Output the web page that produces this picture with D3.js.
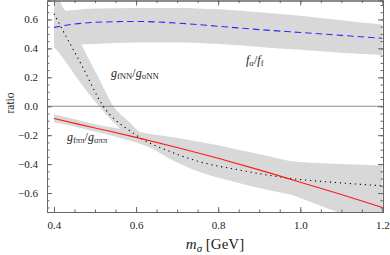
<!DOCTYPE html>
<html><head><meta charset="utf-8">
<script src="https://cdn.jsdelivr.net/npm/d3@7"></script>
<style>body{margin:0;background:#fff}svg{display:block}text{font-family:"Liberation Serif","Times New Roman",serif}</style>
</head><body><svg id="c" width="390" height="255"></svg>
<script>
// ---- data ----
const mBlue   = [0.4, 0.45, 0.5, 0.6, 0.7, 0.8, 0.9, 1.0, 1.1, 1.2];
const fRatio  = [0.545, 0.568, 0.58, 0.586, 0.575, 0.553, 0.53, 0.51, 0.49, 0.47];
const mBlueBand = [0.4, 0.5, 0.6, 0.7, 0.8, 0.9, 1.0, 1.1, 1.2];
const fLow    = [0.42, 0.43, 0.44, 0.44, 0.43, 0.41, 0.39, 0.37, 0.355];
const fHigh   = [0.65, 0.675, 0.68, 0.68, 0.67, 0.65, 0.625, 0.595, 0.565];

const mDot    = [0.4, 0.43, 0.47, 0.52, 0.56, 0.58, 0.62, 0.68, 0.75, 0.85, 0.98, 1.1, 1.2];
const gNN     = [0.64, 0.48, 0.27, 0.0, -0.12, -0.16, -0.235, -0.31, -0.38, -0.44, -0.50, -0.53, -0.55];
const mDotBand = [0.4, 0.415, 0.43, 0.47, 0.51, 0.545, 0.58, 0.62, 0.68, 0.75, 0.85, 0.976, 1.1, 1.2];
const gNNLow  = [0.41, 0.36, 0.30, 0.14, 0.0, -0.11, -0.20, -0.26, -0.36, -0.45, -0.53, -0.61, -0.66, -0.70];
const gNNHigh = [0.95, 0.73, 0.65, 0.41, 0.19, 0.0, -0.10, -0.20, -0.24, -0.28, -0.33, -0.38, -0.40, -0.41];

const mRed    = [0.4, 0.5, 0.6, 0.7, 0.8, 0.9, 1.0, 1.1, 1.2];
const gPiPi   = [-0.085, -0.15, -0.215, -0.285, -0.36, -0.44, -0.525, -0.61, -0.70];
const mRedBand = [0.4, 0.45, 0.5, 0.55, 0.6, 0.73, 0.85, 0.976, 1.1, 1.2];
const gPiLow  = [-0.11, -0.14, -0.175, -0.21, -0.25, -0.40, -0.50, -0.61, -0.74, -0.82];
const gPiHigh = [-0.055, -0.09, -0.125, -0.15, -0.175, -0.234, -0.30, -0.38, -0.48, -0.56];

const xTicks = [0.4, 0.6, 0.8, 1.0, 1.2];
const yTicks = [-0.6, -0.4, -0.2, 0.0, 0.2, 0.4, 0.6];

// ---- layout ----
const svg = d3.select("#c");
const L = 47, R = 383, T = 0.5, B = 212;
const x = d3.scaleLinear().domain([0.383, 1.2015]).range([L, R]);
const y = d3.scaleLinear().domain([-0.731, 0.731]).range([B, T]);

const defs = svg.append("defs");
defs.append("clipPath").attr("id","clip").append("rect")
  .attr("x",L).attr("y",T).attr("width",R-L).attr("height",B-T);
const g = svg.append("g").attr("clip-path","url(#clip)");

const band = (ms, lo, hi) => d3.area().curve(d3.curveMonotoneX)
  .x((d,i)=>x(ms[i])).y0((d,i)=>y(lo[i])).y1((d,i)=>y(hi[i]))(ms);
const line = (ms, vs) => d3.line().curve(d3.curveMonotoneX)
  .x((d,i)=>x(ms[i])).y((d,i)=>y(vs[i]))(ms);

const grey = "#d8d8d8";
g.append("path").attr("d", band(mBlueBand, fLow, fHigh)).attr("fill", grey);
g.append("path").attr("d", band(mDotBand, gNNLow, gNNHigh)).attr("fill", grey);
g.append("path").attr("d", band(mRedBand, gPiLow, gPiHigh)).attr("fill", grey);

// zero line
g.append("line").attr("x1",L).attr("x2",R).attr("y1",y(0)).attr("y2",y(0))
  .attr("stroke","#8a8a8a").attr("stroke-width",1);

g.append("path").attr("d", line(mBlue, fRatio)).attr("fill","none")
  .attr("stroke","#2b2bff").attr("stroke-width",1.1).attr("stroke-dasharray","6.5,4");
g.append("path").attr("d", line(mDot, gNN)).attr("fill","none")
  .attr("stroke","#000").attr("stroke-width",1.1).attr("stroke-dasharray","1.2,3.8");
g.append("path").attr("d", line(mRed, gPiPi)).attr("fill","none")
  .attr("stroke","#ff1a1a").attr("stroke-width",1.1);

// ---- axes/frame ----
const frameCol = "#666";
const xMinor = d3.range(0.4, 1.2001, 0.05).map(v=>+v.toFixed(2));
const yMinor = d3.range(-0.7, 0.7001, 0.05).map(v=>+v.toFixed(2));

svg.append("g").attr("transform",`translate(0,${B})`)
  .call(d3.axisBottom(x).tickValues(xTicks).tickSize(-5).tickPadding(9).tickFormat(d3.format(".1f")));
svg.append("g").attr("transform",`translate(0,${T})`)
  .call(d3.axisTop(x).tickValues(xTicks).tickSize(-5).tickFormat(""));
svg.append("g").attr("transform",`translate(${L},0)`)
  .call(d3.axisLeft(y).tickValues(yTicks).tickSize(-5).tickPadding(9).tickFormat(d3.format(".1f")));
svg.append("g").attr("transform",`translate(${R},0)`)
  .call(d3.axisRight(y).tickValues(yTicks).tickSize(-5).tickFormat(""));
svg.append("g").attr("transform",`translate(0,${B})`)
  .call(d3.axisBottom(x).tickValues(xMinor).tickSize(-2.5).tickFormat(""));
svg.append("g").attr("transform",`translate(0,${T})`)
  .call(d3.axisTop(x).tickValues(xMinor).tickSize(-2.5).tickFormat(""));
svg.append("g").attr("transform",`translate(${L},0)`)
  .call(d3.axisLeft(y).tickValues(yMinor).tickSize(-2.5).tickFormat(""));
svg.append("g").attr("transform",`translate(${R},0)`)
  .call(d3.axisRight(y).tickValues(yMinor).tickSize(-2.5).tickFormat(""));
svg.selectAll(".domain").attr("stroke",frameCol);
svg.selectAll(".tick line").attr("stroke",frameCol);
svg.selectAll(".tick text").attr("font-family","Liberation Serif").attr("font-size",11).attr("fill","#222");

// axis titles
const xt = svg.append("text").attr("x",215).attr("y",249).attr("text-anchor","middle")
  .attr("font-size",15).attr("fill","#222");
xt.append("tspan").attr("font-style","italic").text("m");
xt.append("tspan").attr("font-style","italic").attr("font-size",11).attr("dy",3).text("σ");
xt.append("tspan").attr("dy",-3).text(" [GeV]");

svg.append("text").attr("transform","translate(14,103) rotate(-90)").attr("text-anchor","middle")
  .attr("font-size",11.5).attr("fill","#222").text("ratio");

// curve labels
function ratioLabel(xp, yp, s1, s2, fs) {
  const t = svg.append("text").attr("x",xp).attr("y",yp).attr("font-size",fs).attr("fill","#222");
  t.append("tspan").attr("font-style","italic").text(s1[0]);
  t.append("tspan").attr("font-size",fs*0.72).attr("dy",2).text(s1[1]);
  t.append("tspan").attr("dy",-2).text("/");
  t.append("tspan").attr("font-style","italic").text(s2[0]);
  t.append("tspan").attr("font-size",fs*0.72).attr("dy",2).text(s2[1]);
}
ratioLabel(246, 64, ["f","σ"], ["f","f"], 12);
ratioLabel(111, 77, ["g","fNN"], ["g","σNN"], 12);
ratioLabel(67, 141, ["g","fππ"], ["g","σππ"], 12);
</script></body></html>
